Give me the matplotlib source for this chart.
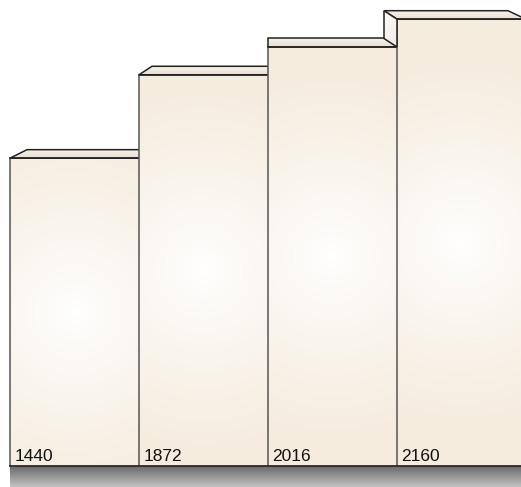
import numpy as np
import matplotlib.pyplot as plt
from matplotlib.patches import Rectangle, Polygon
from matplotlib.colors import to_rgb

values = [1440, 1872, 2016, 2160]
labels = ['1440', '1872', '2016', '2160']
base = -155  # value where the bars stand on the floor

W, H = 521, 487
px_x = 129.0   # pixels per bar slot
px_y = 0.193   # pixels per value unit
depth = 8.5 / px_y
# how far the back edge of each top face slides sideways (px, left/right)
skew = [(17, 17), (13, 13), (0, 0), (-13, -18)]

edge_col = np.array(to_rgb('#f5ecde'))
top_front = np.array(to_rgb('#e9e0d4'))
top_back = np.array(to_rgb('#f7f2ea'))

fig = plt.figure(figsize=(W / 100, H / 100), dpi=100)
ax = fig.add_axes([0, 0, 1, 1])
ax.axis('off')
x0 = -0.5 - 10 / px_x
y0 = base - 21 / px_y
ax.set_xlim(x0, x0 + W / px_x)
ax.set_ylim(y0, y0 + H / px_y)

# floor
n = 64
t = np.linspace(0, 1, n)[:, None, None]
floor = (1 - t) * np.array(to_rgb('#666666')) + t * np.array(to_rgb('#c2c2c2'))
ax.imshow(floor, extent=[-0.5, x0 + W / px_x, y0, base], origin='upper',
          aspect='auto', zorder=1, interpolation='bilinear')
ax.plot([-0.5, x0 + W / px_x], [base, base], color='#2a2a2a', lw=1.3, zorder=20)


def radial(xl, xr, yb, yt):
    nx, ny = 120, 240
    xs = np.linspace(xl, xr, nx)
    ys = np.linspace(yb, yt, ny)
    X, Y = np.meshgrid(xs, ys)
    cx, cy = (xl + xr) / 2, (yb + yt) / 2
    d = np.hypot((X - cx) * px_x, (Y - cy) * px_y)
    r = np.clip(d / 185.0, 0, 1) ** 0.85
    img = (1 - r)[..., None] * np.ones(3) + r[..., None] * edge_col
    return img


for i, v in enumerate(values):
    xl, xr = i - 0.5, i + 0.5
    sl, sr = skew[i][0] / px_x, skew[i][1] / px_x
    z = 2 + i * 3

    # left side face of the last bar, cut off where the previous bar's top sits
    if sl < 0 and i > 0:
        pv = values[i - 1]
        side = [(xl, v), (xl + sl, v + depth), (xl + sl, pv + depth), (xl, pv)]
        sp = Polygon(side, closed=True, fc='none', ec='none', zorder=z + 3)
        ax.add_patch(sp)
        gx = np.linspace(0, 1, 32)[None, :, None]
        gy = np.linspace(0, 1, 64)[:, None, None]
        simg = np.ones((64, 32, 3)) * (1 - 0.05 * gy) - 0.02 * gx
        simg = np.clip(simg * np.array([1.0, 0.99, 0.975]), 0, 1)
        im = ax.imshow(simg, extent=[xl + sl, xl, pv, v + depth], origin='upper',
                       aspect='auto', zorder=z + 3, interpolation='bilinear')
        im.set_clip_path(sp)
        ax.add_patch(Polygon(side, closed=True, fc='none', ec='#222222',
                             lw=1.1, zorder=z + 4))

    # top face
    top = [(xl, v), (xr, v), (xr + sr, v + depth), (xl + sl, v + depth)]
    tp = Polygon(top, closed=True, fc='none', ec='none', zorder=z)
    ax.add_patch(tp)
    g = np.linspace(0, 1, 32)[:, None, None]
    timg = (1 - g) * top_back + g * top_front
    timg = np.repeat(timg, 4, axis=1)
    im = ax.imshow(timg, extent=[xl + min(sl, 0), xr + max(sr, 0), v, v + depth],
                   origin='upper', aspect='auto', zorder=z, interpolation='bilinear')
    im.set_clip_path(tp)
    ax.add_patch(Polygon(top, closed=True, fc='none', ec='#222222', lw=1.1,
                         zorder=z + 1))

    # front face with a soft light spot in the middle
    rect = Rectangle((xl, base), 1.0, v - base, fc='none', ec='none', zorder=z)
    ax.add_patch(rect)
    im = ax.imshow(radial(xl, xr, base, v), extent=[xl, xr, base, v],
                   origin='lower', aspect='auto', zorder=z, interpolation='bilinear')
    im.set_clip_path(rect)
    ax.plot([xl, xl], [base, v], color='#555555', lw=1.1, zorder=z + 1)
    ax.plot([xl, xr], [v, v], color='#222222', lw=1.1, zorder=z + 1)

    ax.text(xl + 4.5 / px_x, base + 5 / px_y, labels[i], fontsize=12.5,
            family='Liberation Sans', va='baseline', ha='left', color='#111111',
            zorder=30)

fig.savefig('out.png', dpi=100)
